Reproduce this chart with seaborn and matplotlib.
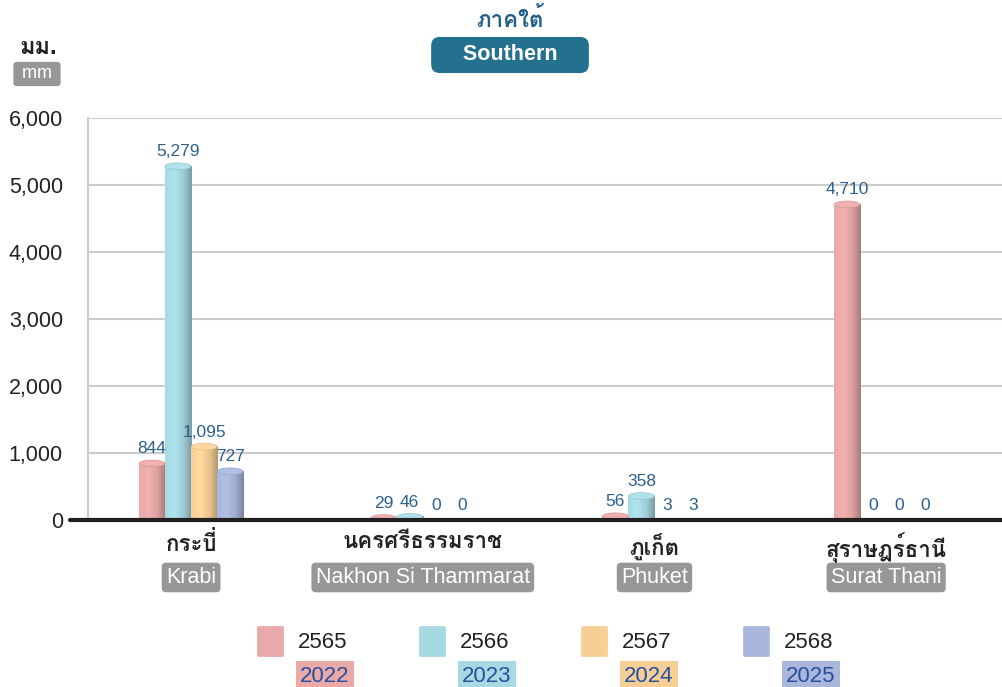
import numpy as np
import pandas as pd
import seaborn as sns
import matplotlib.pyplot as plt
from matplotlib import font_manager, colors as mcolors
from matplotlib.ft2font import FT2Font
from matplotlib.patches import Ellipse, Rectangle
from matplotlib.transforms import blended_transform_factory

provinces_th = ['กระบี่', 'นครศรีธรรมราช', 'ภูเก็ต', 'สุราษฎร์ธานี']
provinces_en = ['Krabi', 'Nakhon Si Thammarat', 'Phuket', 'Surat Thani']
years_th = ['2565', '2566', '2567', '2568']
years_en = ['2022', '2023', '2024', '2025']
rain_2565 = [844, 29, 56, 4710]
rain_2566 = [5279, 46, 358, 0]
rain_2567 = [1095, 0, 3, 0]
rain_2568 = [727, 0, 3, 0]
y_ticks = [0, 1000, 2000, 3000, 4000, 5000, 6000]
bar_colors = ['#E8A9A8', '#A7D9E3', '#F6CF97', '#AAB7DC']


def find_thai_font():
    # first installed font that has a Thai glyph
    for f in font_manager.fontManager.ttflist:
        try:
            if FT2Font(f.fname).get_char_index(0x0E01):
                return f.name
        except Exception:
            continue
    return None


sns.set_style('white')
thai = find_thai_font()
plt.rcParams['font.family'] = ['Liberation Sans'] + ([thai] if thai else []) + ['DejaVu Sans']

df = pd.DataFrame({
    'province': provinces_en * 4,
    'year': np.repeat(years_th, 4),
    'rain': rain_2565 + rain_2566 + rain_2567 + rain_2568,
})

fig = plt.figure(figsize=(10.02, 6.87), dpi=100)
ax = fig.add_axes([0.0878, 0.2431, 0.9122, 0.5852])
sns.barplot(data=df, x='province', y='rain', hue='year', palette=dict(zip(years_th, bar_colors)),
            width=0.45, gap=0, saturation=1, legend=False, ax=ax, zorder=3)

xlim = (-0.445, 3.50)
ylim = (0, 6000)

# cylinder look: horizontal shading + elliptic cap
cap_h = 100
t = np.linspace(0, 1, 64)
shade = np.interp(t, [0, 0.35, 0.7, 1], [1.0, 1.05, 0.94, 0.72])
for cont, col in zip(ax.containers, bar_colors):
    base = np.array(mcolors.to_rgb(col))
    img = np.clip(base[None, None, :] * shade[None, :, None], 0, 1)
    for bar in cont:
        h = bar.get_height()
        if h <= 0:
            continue
        x0, w = bar.get_x(), bar.get_width()
        ax.imshow(img, extent=[x0, x0 + w, 0, h], aspect='auto', zorder=4, interpolation='bilinear')
        if h > 20:
            ax.add_patch(Ellipse((x0 + w / 2, h), w, cap_h, fc=np.clip(base * 1.04, 0, 1),
                                 ec=base * 0.9, lw=0.5, zorder=5))
    ax.bar_label(cont, labels=[f'{b.get_height():,.0f}' for b in cont], padding=5,
                 color='#2B5F8E', fontsize=12.5, zorder=6)

ax.set_xlim(*xlim)
ax.set_ylim(*ylim)
ax.set_yticks(y_ticks)
ax.set_yticklabels([f'{v:,}' for v in y_ticks])
ax.yaxis.grid(True, color='#CCCCCC', lw=1.5)
ax.set_axisbelow(True)
ax.tick_params(axis='y', length=13, color='#CCCCCC', width=1.5, pad=5, labelsize=15.5, labelcolor='#222222')
ax.set_xticks(range(4))
ax.set_xticklabels(provinces_th, fontweight='bold', fontsize=16, color='#222222')
ax.tick_params(axis='x', length=0, pad=9)
ax.set_xlabel('')
ax.set_ylabel('')
for s in ['top', 'right', 'bottom']:
    ax.spines[s].set_visible(False)
ax.spines['left'].set_color('#CCCCCC')
ax.spines['left'].set_linewidth(1.5)
ax.axhline(0, xmin=-0.02, xmax=1, color='#231F20', lw=3, clip_on=False, zorder=7)

trans = blended_transform_factory(ax.transData, ax.transAxes)
for i, name in enumerate(provinces_en):
    ax.text(i, -0.143, name, transform=trans, ha='center', va='center', color='white', fontsize=15.5,
            bbox=dict(boxstyle='round,pad=0.2,rounding_size=0.2', fc='#97979A', ec='none'))

# title
fig.text(0.509, 1 - 20 / 687, 'ภาคใต้', ha='center', va='center', fontsize=16, fontweight='bold', color='#1F5E8A')
fig.text(0.509, 1 - 55 / 687, '    Southern    ', ha='center', va='center', fontsize=15.5, fontweight='bold',
         color='white', bbox=dict(boxstyle='round,pad=0.35,rounding_size=0.4', fc='#23708F', ec='none'))

# unit
fig.text(38 / 1002, 1 - 48 / 687, 'มม.', ha='center', va='center', fontsize=17, fontweight='bold', color='#222222')
fig.text(37 / 1002, 1 - 74 / 687, ' mm ', ha='center', va='center', fontsize=13, color='white',
         bbox=dict(boxstyle='round,pad=0.2,rounding_size=0.2', fc='#97979A', ec='none'))

# legend
for i, (yt, ye, c) in enumerate(zip(years_th, years_en, bar_colors)):
    x = 258 + 162 * i
    fig.add_artist(Rectangle((x / 1002, 1 - 655 / 687), 24 / 1002, 28 / 687, transform=fig.transFigure,
                             fc=c, ec=c, lw=2, joinstyle='round'))
    fig.text((x + 40) / 1002, 1 - 642 / 687, yt, ha='left', va='center', fontsize=16, color='#222222')
    fig.text((x + 67) / 1002, 1 - 676 / 687, ye, ha='center', va='center', fontsize=16, color='#2A4F9E',
             bbox=dict(boxstyle='square,pad=0.2', fc=c, ec='none'))

fig.savefig('out.png', dpi=100)
